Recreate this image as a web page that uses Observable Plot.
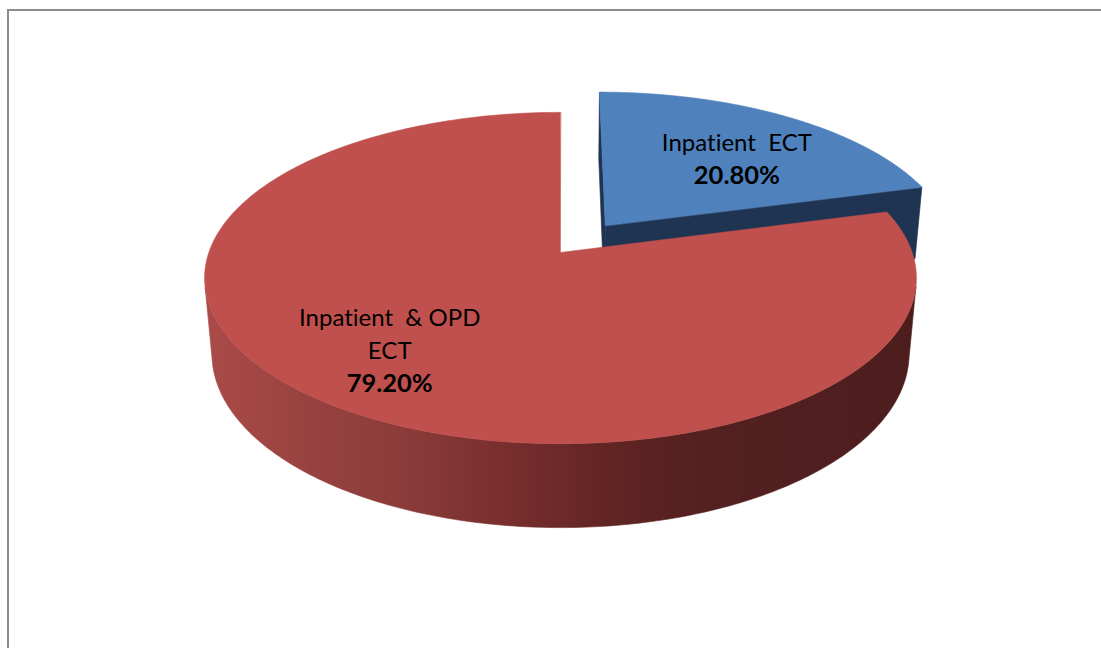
<!DOCTYPE html>
<html><head><meta charset="utf-8">
<script src="https://cdn.jsdelivr.net/npm/d3@7"></script>
<script src="https://cdn.jsdelivr.net/npm/@observablehq/plot@0.6"></script>
<style>
html,body{margin:0;padding:0;background:#fff;}
#wrap{position:relative;width:1101px;height:648px;overflow:hidden;}
#frame{position:absolute;left:7px;top:9px;width:1200px;height:800px;border-left:2px solid #8c8c8c;border-top:2px solid #8c8c8c;pointer-events:none;}
#chart{position:absolute;left:0;top:0;}
svg text{white-space:pre;font-variant-ligatures:none;font-feature-settings:"liga" 0,"clig" 0;}
</style></head><body>
<div id="wrap"><div id="chart"></div><div id="frame"></div></div>
<script>
// ---- data ----
const categories = ["Inpatient  ECT", "Inpatient  & OPD\nECT"];
const shares = [20.8, 79.2];
const topColors = ["#4F81BD", "#C0504D"];
const faceColors = ["#1F3452", "#5A2422"];
const sideGradients = ["blueSide", "redSide"];
const explodeAmount = [0.215, 0];

// ---- layout / camera ----
const W = 1101, H = 648;
const tilt = 28 * Math.PI / 180, S = Math.sin(tilt), C = Math.cos(tilt);
const D = 5.73, FX = 2015, FY = 1974, THICK = 0.252;
const labelR = 0.72;
const labelNudge = [[-3, 15], [-2, -3]];
const lineGap = 33;

function project(X, Y, Z) {
  const d = D - Y * S - Z * C;
  return {x: FX * X / d, y: FY * (Z * S - Y * C) / d};
}
// is surface point p with outward normal n facing the camera at (0, D·S, D·C)?
function facing(p, n) {
  return (0 - p[0]) * n[0] + (D * S - p[1]) * n[1] + (D * C - p[2]) * n[2] > 0;
}

const total = d3.sum(shares);
let acc = 0;
const slices = shares.map((v, i) => {
  const a0 = acc / total * 2 * Math.PI; acc += v;
  const a1 = acc / total * 2 * Math.PI;
  const mid = (a0 + a1) / 2;
  const ox = explodeAmount[i] * Math.sin(mid), oz = -explodeAmount[i] * Math.cos(mid);
  return {i, v, a0, a1, mid, ox, oz};
});

const polys = [];
function arcPts(s, Y, from, to, n) {
  const pts = [];
  for (let k = 0; k <= n; k++) {
    const a = from + (to - from) * k / n;
    pts.push(project(s.ox + Math.sin(a), Y, s.oz - Math.cos(a)));
  }
  return pts;
}
// far slices first
const order = [...slices].sort((a, b) => (-Math.cos(a.mid) + a.oz) - (-Math.cos(b.mid) + b.oz));
for (const s of order) {
  // cut faces
  for (const [a, first] of [[s.a0, true], [s.a1, false]]) {
    const dx = Math.sin(a), dz = -Math.cos(a);
    const nrm = first ? [dz, 0, -dx] : [-dz, 0, dx];
    const pm = [s.ox + dx / 2, -THICK / 2, s.oz + dz / 2];
    if (facing(pm, nrm)) {
      polys.push({fill: faceColors[s.i], pts: [
        project(s.ox, 0, s.oz), project(s.ox + dx, 0, s.oz + dz),
        project(s.ox + dx, -THICK, s.oz + dz), project(s.ox, -THICK, s.oz)]});
    }
  }
  // outer side, visible runs only
  const N = 360;
  let run = [];
  const flush = () => {
    if (run.length > 1) {
      const top = run.map(a => project(s.ox + Math.sin(a), 0, s.oz - Math.cos(a)));
      const bot = run.map(a => project(s.ox + Math.sin(a), -THICK, s.oz - Math.cos(a))).reverse();
      polys.push({fill: `url(#${sideGradients[s.i]})`, pts: top.concat(bot)});
    }
    run = [];
  };
  for (let k = 0; k <= N; k++) {
    const a = s.a0 + (s.a1 - s.a0) * k / N;
    const X = Math.sin(a), Z = -Math.cos(a);
    if (facing([s.ox + X, 0, s.oz + Z], [X, 0, Z])) run.push(a); else flush();
  }
  flush();
  // top
  polys.push({fill: topColors[s.i], pts: [project(s.ox, 0, s.oz), ...arcPts(s, 0, s.a0, s.a1, 240)]});
}

// labels
const nameRows = [], pctRows = [];
slices.forEach(s => {
  const r = explodeAmount[s.i] + labelR;
  const p = project(Math.sin(s.mid) * r, 0, -Math.cos(s.mid) * r);
  const cx = p.x + labelNudge[s.i][0], cy = p.y + labelNudge[s.i][1];
  const lines = categories[s.i].split("\n");
  const n = lines.length + 1;
  lines.forEach((t, k) => nameRows.push({x: cx, y: cy + (k - (n - 1) / 2) * lineGap, text: t}));
  pctRows.push({x: cx, y: cy + ((n - 1) / 2) * lineGap, text: s.v.toFixed(2) + "%"});
});

function gradientDefs() {
  const ns = "http://www.w3.org/2000/svg";
  const defs = document.createElementNS(ns, "defs");
  const grads = {
    redSide: [[0, "#AA4B48"], [0.13, "#9A4341"], [0.27, "#8C3C3A"], [0.41, "#7A302F"], [0.555, "#632524"], [0.7, "#542020"], [1, "#4D1D1D"]],
    blueSide: [[0, "#3A5F8C"], [0.5, "#2A4468"], [1, "#1F3452"]]
  };
  for (const [id, stops] of Object.entries(grads)) {
    const g = document.createElementNS(ns, "linearGradient");
    g.setAttribute("id", id);
    g.setAttribute("x1", "0"); g.setAttribute("x2", "1"); g.setAttribute("y1", "0"); g.setAttribute("y2", "0");
    for (const [o, c] of stops) {
      const st = document.createElementNS(ns, "stop");
      st.setAttribute("offset", o); st.setAttribute("stop-color", c);
      g.appendChild(st);
    }
    defs.appendChild(g);
  }
  return defs;
}

const chart = Plot.plot({
  width: W, height: H, margin: 0,
  style: {background: "transparent", overflow: "hidden"},
  x: {domain: [-560, W - 560], range: [0, W], axis: null},
  y: {domain: [-252, H - 252], range: [0, H], axis: null},
  marks: [
    gradientDefs,
    ...polys.map(p => Plot.line(p.pts, {x: "x", y: "y", fill: p.fill, stroke: p.fill, strokeWidth: 0.6, curve: "linear-closed"})),
    Plot.text(nameRows, {x: "x", y: "y", text: "text", fill: "#000", fontSize: 24, fontFamily: "Lato, 'Open Sans', sans-serif", textAnchor: "middle", lineAnchor: "middle"}),
    Plot.text(pctRows, {x: "x", y: "y", text: "text", fill: "#000", fontSize: 25.5, fontWeight: "bold", fontFamily: "Lato, 'Open Sans', sans-serif", textAnchor: "middle", lineAnchor: "middle"})
  ]
});
document.getElementById("chart").appendChild(chart);
</script>
</body></html>
